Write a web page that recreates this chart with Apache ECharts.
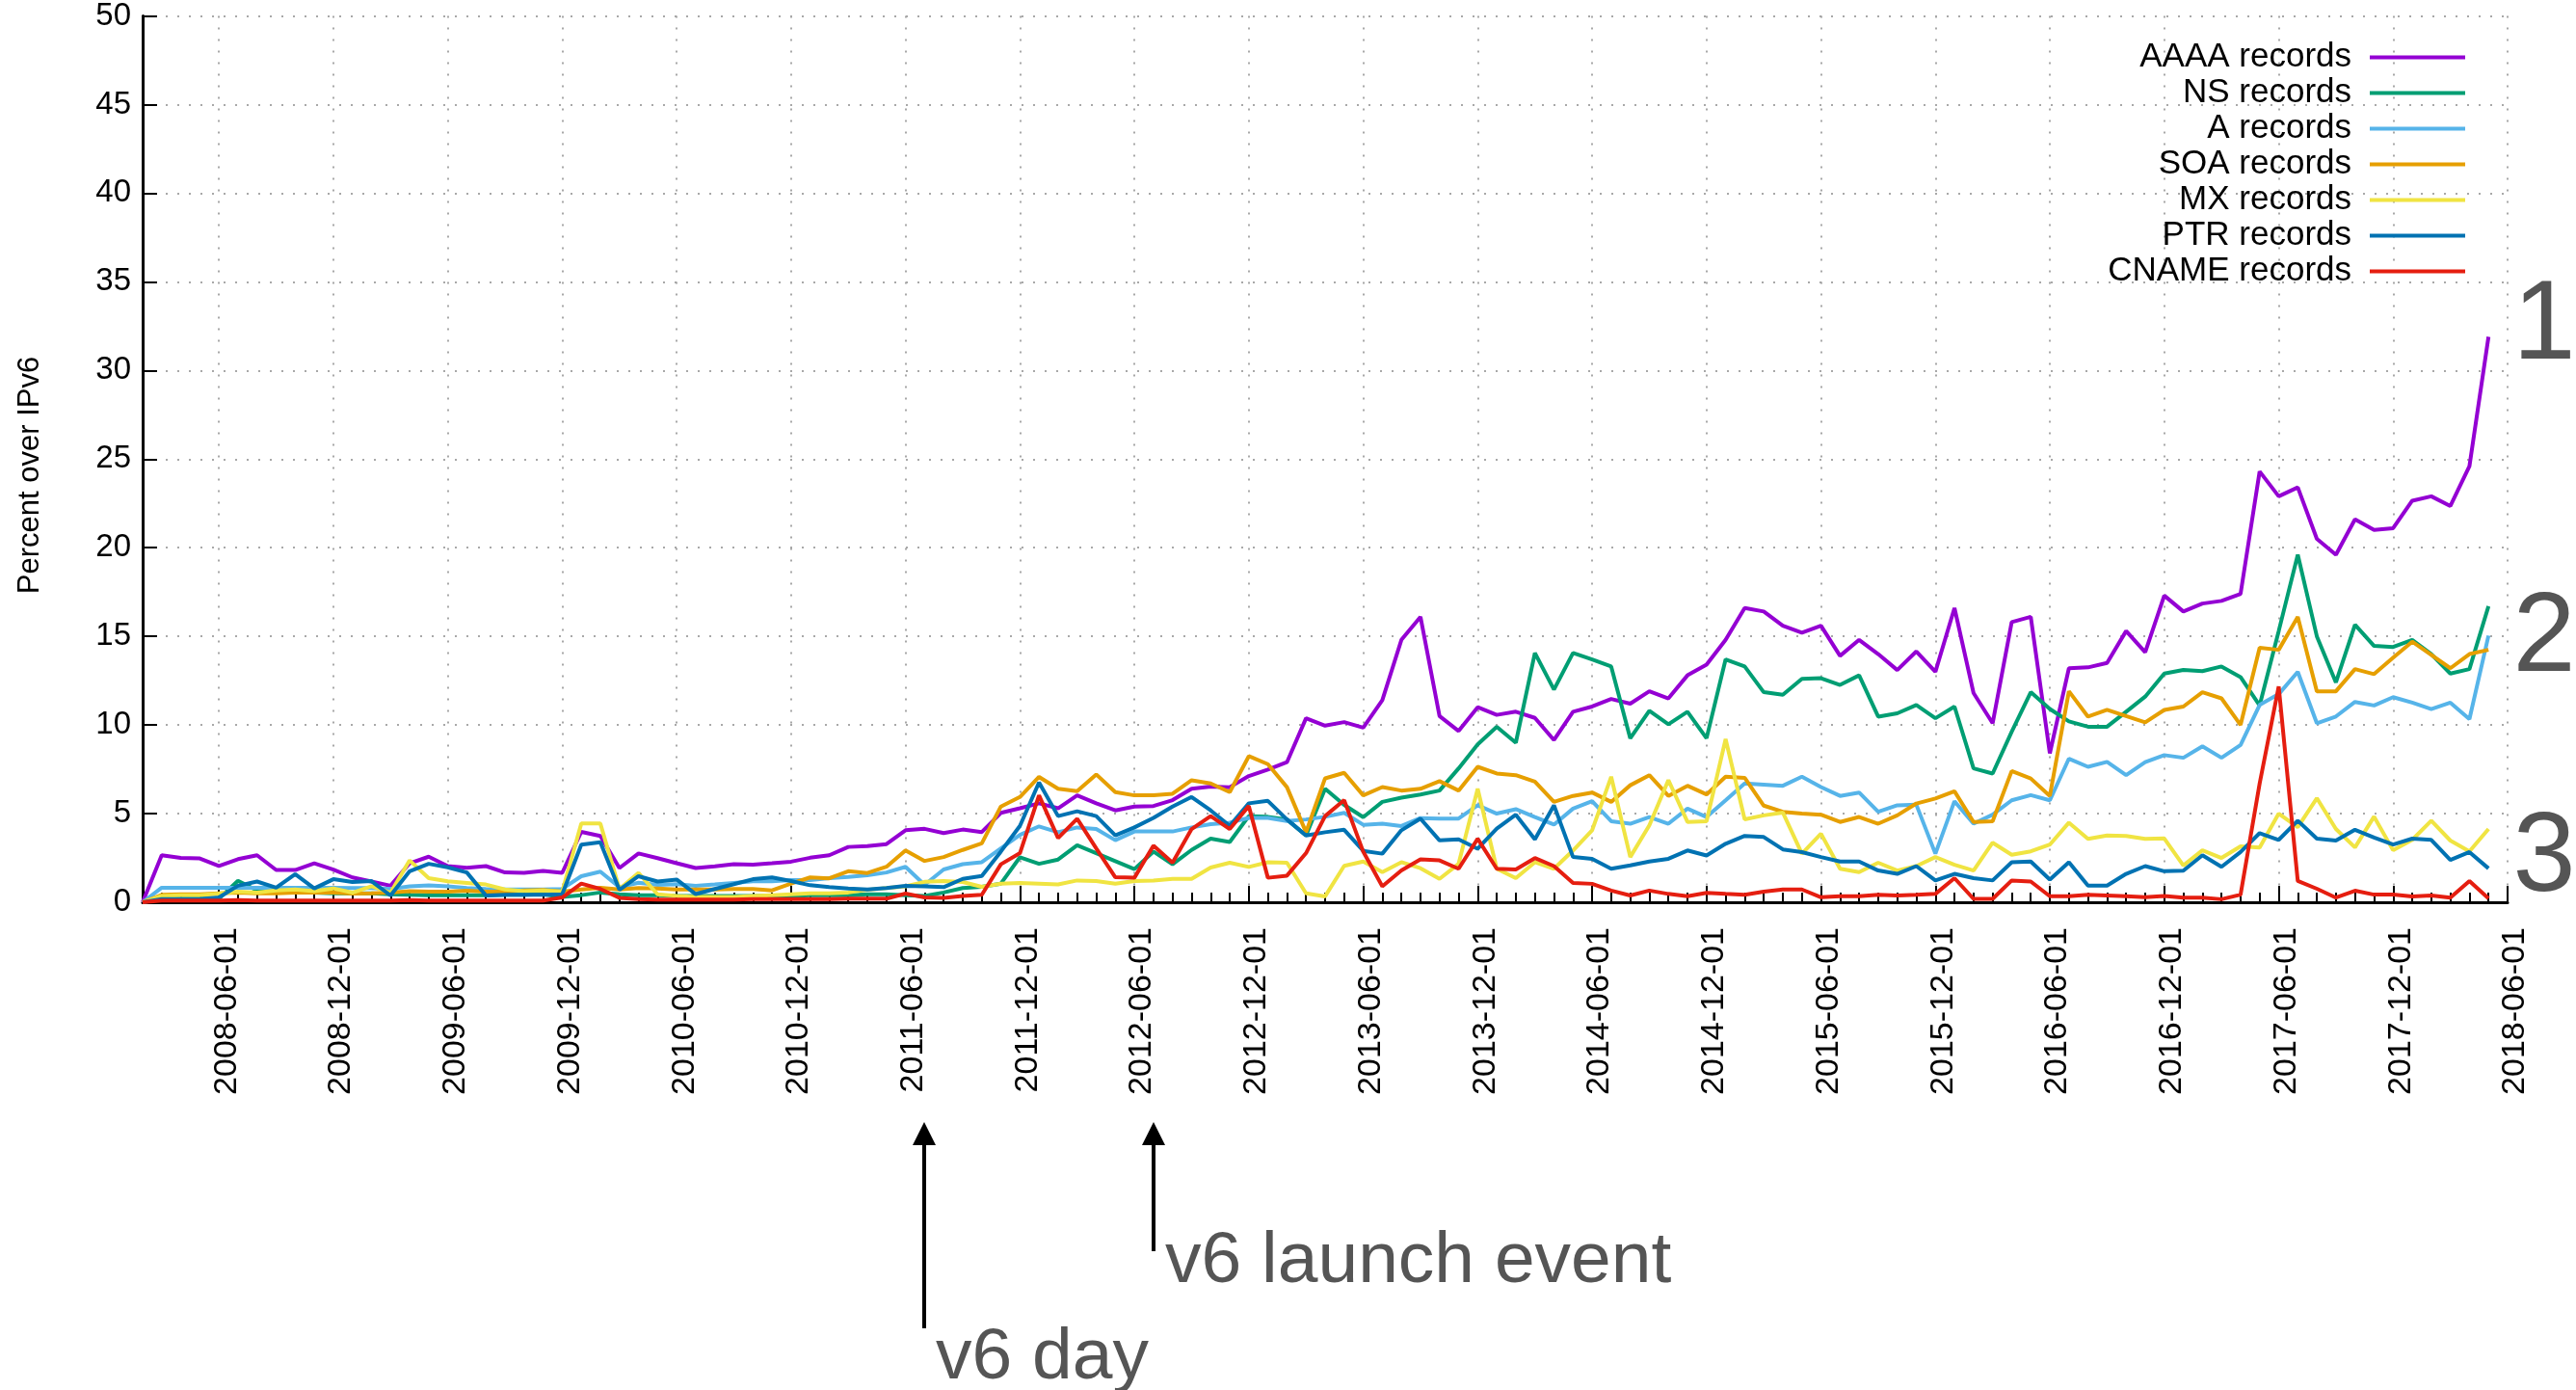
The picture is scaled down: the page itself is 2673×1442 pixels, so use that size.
<!DOCTYPE html>
<html>
<head>
<meta charset="utf-8">
<script src="https://cdn.jsdelivr.net/npm/echarts@6/dist/echarts.min.js"></script>
<style>
html,body{margin:0;padding:0;background:#fff;}
#chart{width:2673px;height:1442px;}
</style>
</head>
<body>
<div id="chart"></div>
<script>
// Monthly categories from 2008-02-01 to 2018-06-01
const startYear = 2008, startMonth = 2, monthCount = 125;
const categories = [];
for (let k = 0; k < monthCount; k++) {
  const t = (startMonth - 1) + k;
  const y = startYear + Math.floor(t / 12);
  const m = (t % 12) + 1;
  categories.push(y + '-' + String(m).padStart(2, '0') + '-01');
}

const seriesNames = ['AAAA records','NS records','A records','SOA records','MX records','PTR records','CNAME records'];
const seriesColors = ['#9400d3','#009e73','#56b4e9','#e69f00','#f0e442','#0072b2','#e51e10'];

const aaaa = [0,2.65,2.5,2.47,2.05,2.43,2.65,1.82,1.82,2.2,1.84,1.4,1.17,0.93,2.2,2.57,2.04,1.95,2.04,1.68,1.66,1.77,
1.66,3.97,3.74,1.93,2.75,2.49,2.2,1.93,2.03,2.15,2.12,2.2,2.29,2.51,2.65,3.12,3.17,3.28,4.06,4.14,
3.9,4.1,3.96,5.04,5.3,5.58,5.3,6.03,5.58,5.18,5.4,5.43,5.76,6.4,6.52,6.49,7.12,7.48,7.9,10.38,9.96,10.16,
9.85,11.4,14.8,16.1,10.5,9.66,11.0,10.57,10.75,10.4,9.15,10.75,11.04,11.47,11.2,11.9,11.5,12.8,13.4,14.8,16.6,
16.4,15.6,15.2,15.6,13.9,14.8,14.0,13.1,14.15,13.0,16.6,11.8,10.1,15.8,16.1,8.4,13.2,13.25,13.5,15.3,14.1,
17.3,16.4,16.85,17.0,17.4,24.3,22.9,23.4,20.5,19.6,21.6,21.0,21.1,22.65,22.9,22.35,24.6,31.9];

const ns = [0,0.2,0.2,0.2,0.2,1.21,0.67,0.6,0.6,0.54,0.5,0.5,0.5,0.45,0.42,0.4,0.4,0.4,0.4,0.42,0.42,0.45,
0.3,0.4,0.55,0.45,0.4,0.4,0.35,0.35,0.35,0.35,0.35,0.35,0.35,0.4,0.4,0.4,0.45,0.45,0.4,0.35,
0.55,0.8,0.87,1.05,2.54,2.17,2.41,3.22,2.77,2.32,1.87,2.86,2.14,2.95,3.59,3.4,4.86,4.82,4.67,3.77,6.4,5.49,
4.8,5.66,5.9,6.08,6.3,7.55,8.9,9.9,9.0,14.06,12.0,14.06,13.7,13.3,9.25,10.8,10.04,10.75,9.25,13.7,13.3,
11.85,11.7,12.6,12.64,12.26,12.8,10.47,10.66,11.13,10.38,11.04,7.55,7.26,9.62,11.85,10.9,10.2,9.9,9.9,10.75,11.6,
12.9,13.1,13.04,13.3,12.7,11.1,15.3,19.6,15.0,12.4,15.65,14.46,14.4,14.8,14.0,12.9,13.15,16.7];

const aRec = [0,0.82,0.82,0.82,0.82,0.82,0.82,0.82,0.82,0.82,0.82,0.8,0.8,0.75,0.9,0.95,0.9,0.8,0.75,0.72,0.72,0.72,
0.75,1.47,1.73,0.85,1.1,0.98,1.02,0.93,1.0,1.09,1.18,1.18,1.25,1.25,1.36,1.43,1.52,1.68,2.0,0.98,
1.85,2.15,2.26,3.04,3.8,4.28,3.95,4.22,4.13,3.5,3.99,3.99,3.99,4.22,4.4,4.49,4.76,4.76,4.58,4.67,4.82,5.04,
4.37,4.43,4.3,4.75,4.72,4.72,5.47,5.0,5.25,4.81,4.38,5.28,5.7,4.57,4.43,4.81,4.43,5.28,4.81,5.75,6.7,
6.64,6.57,7.08,6.5,6.0,6.19,5.1,5.47,5.5,2.74,5.7,4.43,4.94,5.75,6.04,5.75,8.1,7.64,7.92,7.17,7.9,
8.3,8.15,8.8,8.15,8.87,11.13,11.74,13.0,10.1,10.48,11.3,11.1,11.57,11.26,10.9,11.26,10.33,15.04];

const soa = [0,0.42,0.45,0.45,0.5,0.54,0.5,0.5,0.55,0.55,0.55,0.49,0.5,0.54,0.63,0.6,0.6,0.65,0.6,0.6,0.67,0.7,
0.6,0.72,0.82,0.72,0.8,0.78,0.72,0.72,0.72,0.75,0.75,0.67,1.05,1.4,1.35,1.75,1.65,2.0,2.92,2.33,
2.55,2.95,3.32,5.4,5.94,7.07,6.4,6.27,7.21,6.21,6.03,6.03,6.12,6.88,6.7,6.21,8.24,7.79,6.49,3.95,6.99,7.3,
6.03,6.5,6.3,6.4,6.83,6.3,7.64,7.26,7.17,6.8,5.66,6.0,6.19,5.66,6.6,7.17,6.0,6.57,6.08,7.08,7.02,
5.45,5.1,5.0,4.94,4.53,4.81,4.43,4.9,5.57,5.85,6.26,4.53,4.57,7.4,6.98,6.0,11.9,10.47,10.85,10.5,10.15,
10.85,11.04,11.85,11.5,10.0,14.35,14.24,16.1,11.9,11.9,13.15,12.87,13.8,14.7,13.96,13.2,14.0,14.24];

const mx = [0,0.36,0.4,0.4,0.49,0.6,0.54,0.67,0.72,0.63,0.78,0.54,0.9,0.54,2.36,1.36,1.18,1.09,1.0,0.72,0.63,0.67,
0.6,4.44,4.44,0.75,1.65,0.45,0.36,0.3,0.3,0.3,0.35,0.4,0.45,0.5,0.5,0.55,0.7,0.8,0.9,1.15,
1.2,1.14,0.87,1.05,1.09,1.05,1.01,1.23,1.2,1.05,1.2,1.22,1.32,1.32,1.96,2.23,1.99,2.26,2.23,0.5,0.33,2.05,
2.3,1.7,2.26,1.92,1.32,2.17,6.4,1.89,1.36,2.26,1.89,2.92,4.06,7.08,2.55,4.34,6.89,4.53,4.57,9.2,4.68,
4.9,5.06,2.74,3.87,1.89,1.7,2.23,1.79,2.04,2.55,2.11,1.79,3.36,2.68,2.87,3.25,4.49,3.58,3.77,3.74,3.58,
3.6,2.07,2.93,2.5,3.15,3.09,5.0,4.24,5.87,4.13,3.09,4.83,2.93,3.52,4.6,3.48,2.87,4.13];

const ptr = [0,0.18,0.18,0.18,0.27,0.93,1.17,0.82,1.58,0.78,1.3,1.14,1.19,0.38,1.75,2.17,1.97,1.68,0.38,0.42,0.42,0.42,
0.45,3.25,3.38,0.7,1.47,1.17,1.28,0.46,0.75,1.02,1.3,1.4,1.2,0.96,0.86,0.78,0.72,0.8,0.93,0.9,
0.85,1.32,1.48,2.86,4.31,6.76,4.86,5.13,4.86,3.77,4.22,4.76,5.4,5.94,5.18,4.31,5.58,5.72,4.67,3.77,3.95,4.09,
2.9,2.74,4.06,4.72,3.49,3.55,3.02,4.15,4.94,3.55,5.47,2.55,2.45,1.89,2.08,2.3,2.45,2.92,2.64,3.3,3.74,
3.68,2.98,2.83,2.55,2.3,2.3,1.79,1.6,2.04,1.23,1.6,1.36,1.23,2.26,2.3,1.28,2.26,0.94,0.94,1.6,2.04,
1.75,1.78,2.65,2.0,2.83,3.9,3.52,4.6,3.59,3.48,4.09,3.65,3.26,3.59,3.52,2.39,2.83,1.91];

const cname = [0,0.1,0.1,0.1,0.1,0.12,0.1,0.1,0.1,0.1,0.1,0.1,0.1,0.1,0.12,0.1,0.1,0.1,0.1,0.1,0.1,0.1,
0.27,1.05,0.75,0.25,0.18,0.15,0.15,0.15,0.15,0.15,0.18,0.18,0.18,0.18,0.18,0.2,0.2,0.2,0.49,0.27,
0.25,0.35,0.42,2.14,2.77,6.03,3.62,4.71,3.04,1.41,1.38,3.19,2.23,4.13,4.86,4.13,5.43,1.38,1.5,2.77,4.86,5.76,
2.85,0.9,1.79,2.42,2.36,1.89,3.58,1.89,1.85,2.49,2.04,1.09,1.04,0.66,0.38,0.66,0.47,0.34,0.53,0.47,0.42,
0.6,0.72,0.72,0.28,0.34,0.34,0.42,0.38,0.42,0.47,1.36,0.19,0.19,1.23,1.17,0.34,0.34,0.42,0.38,0.34,0.28,
0.35,0.26,0.26,0.17,0.43,6.7,12.17,1.2,0.76,0.26,0.65,0.43,0.43,0.33,0.38,0.26,1.2,0.22];

const seriesData = [aaaa, ns, aRec, soa, mx, ptr, cname];

const yTicks = {min: 0, max: 50, interval: 5};
const yTitle = 'Percent over IPv6';
// arrows point at the month after the named event month (as drawn in the source)
const annotations = [
  {text: 'v6 day', month: '2011-07-01'},
  {text: 'v6 launch event', month: '2012-07-01'}
];
const groupLabels = ['1', '2', '3'];

const FONT = '"Liberation Sans", Arial, Helvetica, sans-serif';
const isHalfYear = (idx) => { const m = categories[idx].slice(5,7); return m === '06' || m === '12'; };

const chart = echarts.init(document.getElementById('chart'), null, {renderer: 'canvas'});

const option = {
  animation: false,
  backgroundColor: '#ffffff',
  grid: {left: 148, right: 71, top: 16, bottom: 506, containLabel: false},
  legend: {
    orient: 'vertical',
    right: 110,
    top: 37,
    align: 'right',
    itemWidth: 99,
    itemHeight: 4,
    itemGap: 2,
    icon: 'rect',
    textStyle: {fontFamily: FONT, fontSize: 35, color: '#000', padding: [0, 14, 0, 0]},
    data: seriesNames
  },
  xAxis: [{
    type: 'category',
    data: categories,
    boundaryGap: false,
    axisLine: {show: true, lineStyle: {color: '#000', width: 3}},
    axisTick: {show: true, inside: true, length: 10, interval: 0, lineStyle: {color: '#000', width: 2}},
    axisLabel: {
      show: true, rotate: 90, margin: 26,
      verticalAlign: 'top', lineHeight: 16,
      interval: (idx) => isHalfYear(idx),
      fontFamily: FONT, fontSize: 34, color: '#000'
    },
    splitLine: {
      show: true,
      interval: (idx) => isHalfYear(idx),
      lineStyle: {color: '#a8a8a8', width: 2, type: [2, 10]}
    }
  }, {
    type: 'category',
    data: categories,
    boundaryGap: false,
    position: 'bottom',
    axisLine: {show: false},
    axisTick: {show: true, inside: true, length: 17, interval: (idx) => isHalfYear(idx), lineStyle: {color: '#000', width: 2}},
    axisLabel: {show: false},
    splitLine: {show: false}
  }],
  yAxis: {
    type: 'value',
    min: yTicks.min, max: yTicks.max, interval: yTicks.interval,
    axisLine: {show: true, lineStyle: {color: '#000', width: 3}},
    axisTick: {show: true, inside: true, length: 15, lineStyle: {color: '#000', width: 2}},
    axisLabel: {fontFamily: FONT, fontSize: 33, color: '#000', margin: 12},
    splitLine: {show: true, lineStyle: {color: '#a8a8a8', width: 2, type: [2, 10]}}
  },
  series: seriesNames.map((name, k) => ({
    name: name,
    type: 'line',
    data: seriesData[k],
    symbol: 'none',
    showSymbol: false,
    smooth: false,
    color: seriesColors[k],
    lineStyle: {color: seriesColors[k], width: 4},
    itemStyle: {color: seriesColors[k]},
    z: 2 + k
  }))
};

chart.setOption(option);

function drawAnnotations() {
  const elements = [];
  const yTip = 1164;
  const ends = [1378, 1298];
  const textY = [1409, 1309];
  annotations.forEach((a, n) => {
    const idx = categories.indexOf(a.month);
    const x = Math.round(chart.convertToPixel({xAxisIndex: 0}, idx));
    const yb = ends[n];
    elements.push({type: 'line', shape: {x1: x, y1: yb, x2: x, y2: yTip + 20}, style: {stroke: '#000', lineWidth: 4}, z: 100});
    elements.push({type: 'polygon', shape: {points: [[x, yTip], [x - 12, yTip + 24], [x + 12, yTip + 24]]}, style: {fill: '#000'}, z: 100});
    elements.push({type: 'text', x: x + 12, y: textY[n], style: {text: a.text, font: '75px ' + FONT, fill: '#555', textAlign: 'left', textVerticalAlign: 'middle'}, z: 100});
  });
  const ys = [340, 664, 892];
  groupLabels.forEach((t, n) => {
    elements.push({type: 'text', x: 2640, y: ys[n], style: {text: t, font: '117px ' + FONT, fill: '#555', textAlign: 'center', textVerticalAlign: 'middle'}, z: 100});
  });
  // y-axis title
  elements.push({type: 'text', x: 31, y: 493, rotation: Math.PI / 2,
    style: {text: yTitle, font: '31px ' + FONT, fill: '#000', textAlign: 'center', textVerticalAlign: 'middle'}, z: 100});
  chart.setOption({graphic: {elements: elements}});
}
drawAnnotations();
</script>
</body>
</html>
